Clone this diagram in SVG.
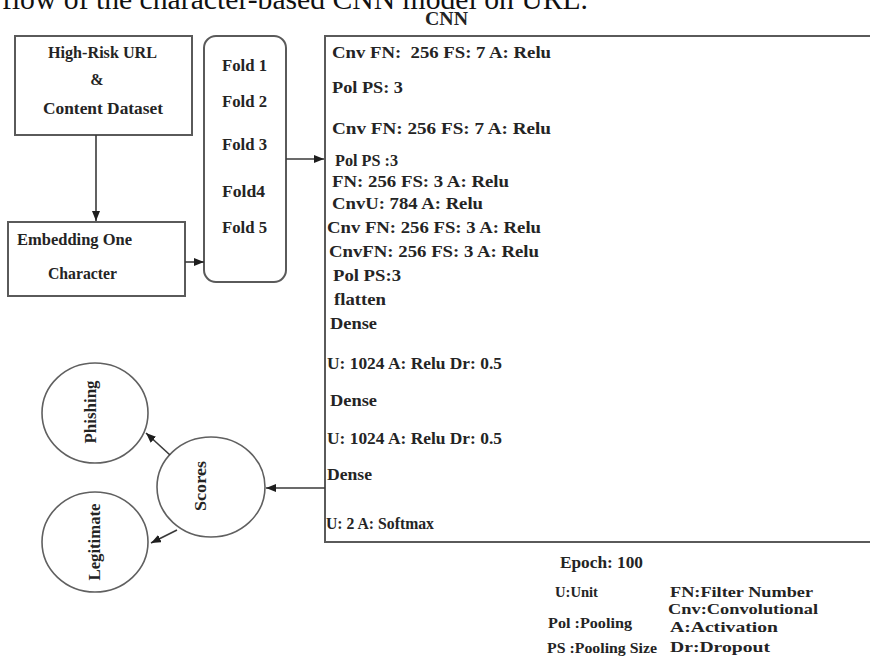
<svg xmlns="http://www.w3.org/2000/svg" width="870" height="657" viewBox="0 0 870 657">
  <style>
    .box { fill: #ffffff; stroke: #5a5a5a; stroke-width: 2; }
    .circ { fill: #ffffff; stroke: #606060; stroke-width: 1.6; }
    .edge { fill: none; stroke: #3a3a3a; stroke-width: 1.6; }
    .t { font-family: "Liberation Serif", "Times New Roman", "DejaVu Serif", serif; font-weight: bold; fill: #242424; white-space: pre; }
    .cap { font-family: "Liberation Serif", "Times New Roman", serif; font-size: 30px; fill: #111111; }
    .layer { font-size: 17.5px; }
    .lab { font-size: 16px; }
    .leg { font-size: 14px; }
    .mid { text-anchor: middle; }
  </style>
  <defs>
    <marker id="arrow" markerUnits="userSpaceOnUse" markerWidth="10" markerHeight="8" refX="10" refY="4" orient="auto">
      <path d="M0,0 L10,4 L0,8 z" fill="#1e1e1e"/>
    </marker>
  </defs>

  <rect width="870" height="657" fill="#ffffff"/>

  <!-- caption line, partly above the top edge -->
  <text class="cap" x="2" y="9" textLength="586" lengthAdjust="spacingAndGlyphs">flow of the character-based CNN model on URL.</text>

  <g id="dataset">
    <rect class="box" x="15" y="36" width="177" height="99"/>
    <text class="t lab" x="48" y="58" textLength="109" lengthAdjust="spacingAndGlyphs">High-Risk URL</text>
    <text class="t lab mid" x="97" y="85">&amp;</text>
    <text class="t lab" x="43" y="114" textLength="120" lengthAdjust="spacingAndGlyphs">Content Dataset</text>
  </g>

  <g id="embedding">
    <rect class="box" x="8" y="222" width="177" height="74"/>
    <text class="t lab" x="17" y="245" textLength="115" lengthAdjust="spacingAndGlyphs">Embedding One</text>
    <text class="t lab" x="48" y="279" textLength="69" lengthAdjust="spacingAndGlyphs">Character</text>
  </g>

  <g id="folds">
    <rect class="box" x="204" y="36" width="82" height="246" rx="12" ry="12"/>
    <text class="t lab" x="222" y="71" textLength="45" lengthAdjust="spacingAndGlyphs">Fold 1</text>
    <text class="t lab" x="222" y="107" textLength="45" lengthAdjust="spacingAndGlyphs">Fold 2</text>
    <text class="t lab" x="222" y="150" textLength="45" lengthAdjust="spacingAndGlyphs">Fold 3</text>
    <text class="t lab" x="222" y="197" textLength="43" lengthAdjust="spacingAndGlyphs">Fold4</text>
    <text class="t lab" x="222" y="233" textLength="45" lengthAdjust="spacingAndGlyphs">Fold 5</text>
  </g>

  <g id="cnn">
    <text class="t" x="425" y="25" font-size="18" textLength="43" lengthAdjust="spacingAndGlyphs">CNN</text>
    <rect class="box" x="325" y="36" width="560" height="506"/>
    <text class="t layer" x="332" y="58" textLength="219" lengthAdjust="spacingAndGlyphs">Cnv FN:  256 FS: 7 A: Relu</text>
    <text class="t layer" x="332" y="93" textLength="71" lengthAdjust="spacingAndGlyphs">Pol PS: 3</text>
    <text class="t layer" x="332" y="134" textLength="219" lengthAdjust="spacingAndGlyphs">Cnv FN: 256 FS: 7 A: Relu</text>
    <text class="t layer" x="335" y="166" style="white-space: normal" textLength="63" lengthAdjust="spacingAndGlyphs">Pol PS   :3</text>
    <text class="t layer" x="332" y="187" textLength="177" lengthAdjust="spacingAndGlyphs">FN: 256 FS: 3 A: Relu</text>
    <text class="t layer" x="332" y="209" textLength="151" lengthAdjust="spacingAndGlyphs">CnvU: 784 A: Relu</text>
    <text class="t layer" x="327" y="233" textLength="214" lengthAdjust="spacingAndGlyphs">Cnv FN: 256 FS: 3 A: Relu</text>
    <text class="t layer" x="329" y="257" textLength="210" lengthAdjust="spacingAndGlyphs">CnvFN: 256 FS: 3 A: Relu</text>
    <text class="t layer" x="333" y="281" textLength="68" lengthAdjust="spacingAndGlyphs">Pol PS:3</text>
    <text class="t layer" x="334" y="305" textLength="52" lengthAdjust="spacingAndGlyphs">flatten</text>
    <text class="t layer" x="330" y="329" textLength="47" lengthAdjust="spacingAndGlyphs">Dense</text>
    <text class="t layer" x="327" y="369" textLength="175" lengthAdjust="spacingAndGlyphs">U: 1024 A: Relu Dr: 0.5</text>
    <text class="t layer" x="330" y="406" textLength="47" lengthAdjust="spacingAndGlyphs">Dense</text>
    <text class="t layer" x="327" y="444" textLength="175" lengthAdjust="spacingAndGlyphs">U: 1024 A: Relu Dr: 0.5</text>
    <text class="t layer" x="327" y="480" textLength="45" lengthAdjust="spacingAndGlyphs">Dense</text>
    <text class="t layer" x="326" y="529" textLength="108" lengthAdjust="spacingAndGlyphs">U: 2 A: Softmax</text>
  </g>

  <g id="scores">
    <ellipse class="circ" cx="211" cy="487" rx="54" ry="50"/>
    <text class="t lab mid" transform="rotate(-90 200 486)" x="200" y="486" dy="6" textLength="50" lengthAdjust="spacingAndGlyphs">Scores</text>
  </g>

  <g id="phishing">
    <ellipse class="circ" cx="95" cy="413" rx="53" ry="50"/>
    <text class="t lab mid" transform="rotate(-90 90 412)" x="90" y="412" dy="6" textLength="63" lengthAdjust="spacingAndGlyphs">Phishing</text>
  </g>

  <g id="legitimate">
    <ellipse class="circ" cx="95" cy="542" rx="53" ry="50"/>
    <text class="t lab mid" transform="rotate(-90 94 542)" x="94" y="542" dy="6" textLength="77" lengthAdjust="spacingAndGlyphs">Legitimate</text>
  </g>

  <g id="legend">
    <text class="t" x="560" y="568" font-size="17" textLength="83" lengthAdjust="spacingAndGlyphs">Epoch: 100</text>
    <text class="t leg" x="555" y="597" textLength="43" lengthAdjust="spacingAndGlyphs">U:Unit</text>
    <text class="t leg" x="548" y="628" font-size="15" textLength="84" lengthAdjust="spacingAndGlyphs">Pol :Pooling</text>
    <text class="t leg" x="547" y="653" textLength="110" lengthAdjust="spacingAndGlyphs">PS :Pooling Size</text>
    <text class="t leg" x="670" y="597" textLength="143" lengthAdjust="spacingAndGlyphs">FN:Filter Number</text>
    <text class="t leg" x="668" y="614" textLength="150" lengthAdjust="spacingAndGlyphs">Cnv:Convolutional</text>
    <text class="t leg" x="670" y="632" textLength="108" lengthAdjust="spacingAndGlyphs">A:Activation</text>
    <text class="t leg" x="670" y="652" textLength="100" lengthAdjust="spacingAndGlyphs">Dr:Dropout</text>
  </g>

  <g id="connectors">
    <path class="edge" d="M96,135 V221" marker-end="url(#arrow)"/>
    <path class="edge" d="M185,262 H204" marker-end="url(#arrow)"/>
    <path class="edge" d="M286,159 H324" marker-end="url(#arrow)"/>
    <path class="edge" d="M325,488 H266" marker-end="url(#arrow)"/>
    <path class="edge" d="M170,455 L146,433" marker-end="url(#arrow)"/>
    <path class="edge" d="M177,530 L151,543" marker-end="url(#arrow)"/>
  </g>
</svg>
